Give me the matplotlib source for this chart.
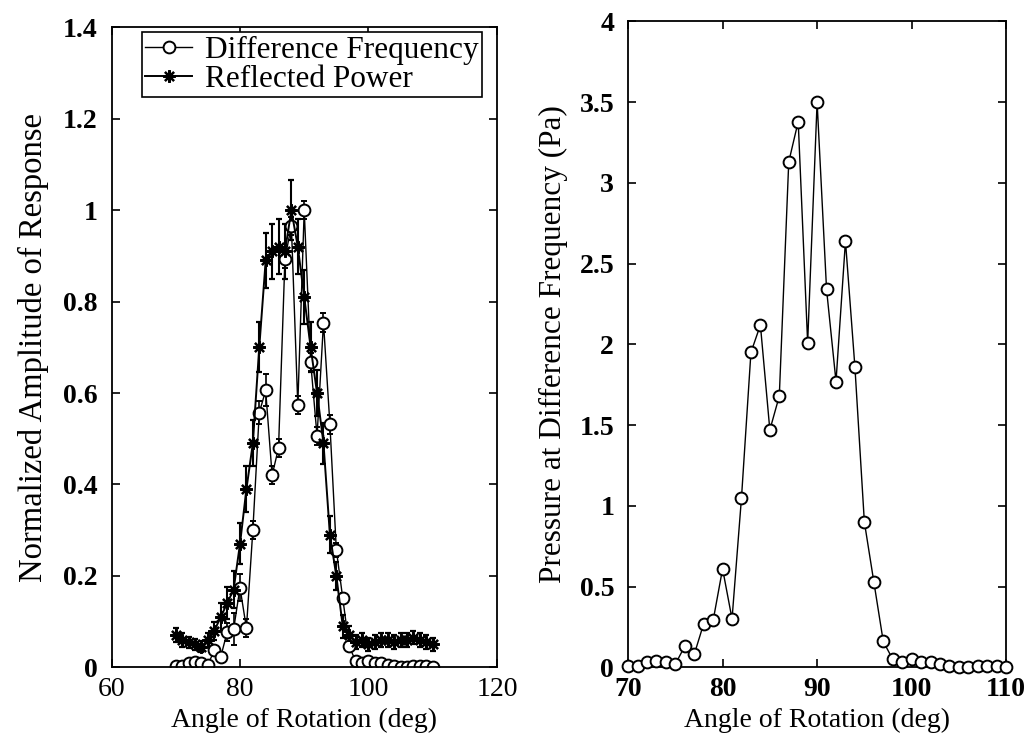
import numpy as np
import matplotlib
matplotlib.use('Agg')
import matplotlib.pyplot as plt
from matplotlib.lines import Line2D

plt.rcParams['font.family'] = ['Liberation Serif', 'DejaVu Serif']

# angle of rotation (deg), 1 deg steps
angle = np.arange(70, 111)

# pressure at difference frequency (Pa), right panel
pressure = [0.01, 0.01, 0.03, 0.04, 0.03, 0.02, 0.13, 0.08, 0.27, 0.29,
            0.61, 0.30, 1.05, 1.95, 2.12, 1.47, 1.68, 3.13, 3.38, 2.01,
            3.50, 2.34, 1.77, 2.64, 1.86, 0.90, 0.53, 0.16, 0.05, 0.03,
            0.05, 0.03, 0.03, 0.02, 0.01, 0.00, 0.00, 0.01, 0.01, 0.01,
            0.00]

# difference frequency normalized (left panel) = pressure / max
diff_norm = np.array(pressure) / max(pressure)
diff_err = [0.004, 0.004, 0.004, 0.004, 0.004, 0.004, 0.010, 0.010, 0.020, 0.035,
            0.030, 0.020, 0.020, 0.025, 0.035, 0.020, 0.020, 0.020, 0.020, 0.020,
            0.020, 0.020, 0.020, 0.020, 0.020, 0.015, 0.012, 0.010, 0.008, 0.006,
            0.006, 0.005, 0.005, 0.005, 0.005, 0.005, 0.005, 0.005, 0.005, 0.005,
            0.005]

# reflected power normalized
refl = [0.070, 0.060, 0.055, 0.050, 0.045, 0.060, 0.080, 0.110, 0.140, 0.170,
        0.270, 0.390, 0.490, 0.700, 0.890, 0.910, 0.920, 0.910, 1.000, 0.920,
        0.810, 0.700, 0.600, 0.490, 0.290, 0.200, 0.090, 0.070, 0.055, 0.060,
        0.050, 0.055, 0.060, 0.060, 0.055, 0.060, 0.060, 0.065, 0.060, 0.055,
        0.050]
refl_err = [0.015, 0.015, 0.012, 0.012, 0.012, 0.015, 0.020, 0.030, 0.035, 0.040,
            0.045, 0.050, 0.050, 0.055, 0.060, 0.060, 0.060, 0.060, 0.065, 0.060,
            0.060, 0.055, 0.050, 0.045, 0.040, 0.030, 0.025, 0.020, 0.015, 0.015,
            0.015, 0.015, 0.015, 0.015, 0.015, 0.015, 0.015, 0.015, 0.015, 0.015,
            0.015]

left_xticks = [60, 80, 100, 120]
left_yticks = [0, 0.2, 0.4, 0.6, 0.8, 1.0, 1.2, 1.4]
left_ylabels = ['0', '0.2', '0.4', '0.6', '0.8', '1', '1.2', '1.4']
right_xticks = [70, 80, 90, 100, 110]
right_yticks = [0, 0.5, 1, 1.5, 2, 2.5, 3, 3.5, 4]
right_ylabels = ['0', '0.5', '1', '1.5', '2', '2.5', '3', '3.5', '4']

fig = plt.figure(figsize=(10.33, 7.39), dpi=100)
ax1 = fig.add_axes([0.108, 0.097, 0.373, 0.866])
ax2 = fig.add_axes([0.608, 0.097, 0.366, 0.874])

star = (8, 2, 0)

ax1.errorbar(angle, diff_norm, yerr=diff_err, color='black', lw=1.0,
             marker='o', ms=8.5, mfc='white', mec='black', mew=1.4,
             elinewidth=1.2, capsize=2.5)
ax1.errorbar(angle, refl, yerr=refl_err, color='black', lw=1.4,
             marker=star, ms=9, mec='black', mew=1.6,
             elinewidth=1.5, capsize=2.5)

ax1.set_xlim(60, 120)
ax1.set_ylim(0, 1.4)
ax1.set_xticks(left_xticks)
ax1.set_xticklabels([str(t) for t in left_xticks], fontsize=21)
ax1.set_yticks(left_yticks)
ax1.set_yticklabels(left_ylabels, fontweight='bold')
ax1.set_xlabel('Angle of Rotation (deg)', fontsize=20, labelpad=4)
ax1.set_ylabel('Normalized Amplitude of Response', fontsize=23.5, labelpad=10)

handles = [Line2D([], [], color='black', lw=1.0, marker='o', ms=8.5,
                  mfc='white', mec='black', mew=1.4),
           Line2D([], [], color='black', lw=1.4, marker=star, ms=9,
                  mec='black', mew=1.6)]
leg = ax1.legend(handles, ['Difference Frequency', 'Reflected Power'],
                 loc='upper right', bbox_to_anchor=(0.962, 0.993), fontsize=22.5,
                 handlelength=1.5, handletextpad=0.4, borderpad=0.12,
                 labelspacing=0.0, fancybox=False, framealpha=1,
                 edgecolor='black', borderaxespad=0)
leg.get_frame().set_linewidth(1.2)

ax2.plot(angle, pressure, color='black', lw=1.0, marker='o', ms=8.5,
         mfc='white', mec='black', mew=1.4, clip_on=False, zorder=3)
ax2.set_xlim(70, 110)
ax2.set_ylim(0, 4)
ax2.set_xticks(right_xticks)
ax2.set_xticklabels([str(t) for t in right_xticks], fontweight='bold')
ax2.set_yticks(right_yticks)
ax2.set_yticklabels(right_ylabels, fontweight='bold')
ax2.set_xlabel('Angle of Rotation (deg)', fontsize=20, labelpad=4)
ax2.set_ylabel('Pressure at Difference Frequency (Pa)', fontsize=22.5, labelpad=8)

for ax in [ax1, ax2]:
    ax.tick_params(direction='in', length=6, width=1.2, top=True, right=True,
                   labelsize=20)
    ax.tick_params(axis='x', pad=7)
    ax.tick_params(axis='y', pad=10)
    for sp in ax.spines.values():
        sp.set_linewidth(1.3)

fig.savefig('out.png', dpi=100)
